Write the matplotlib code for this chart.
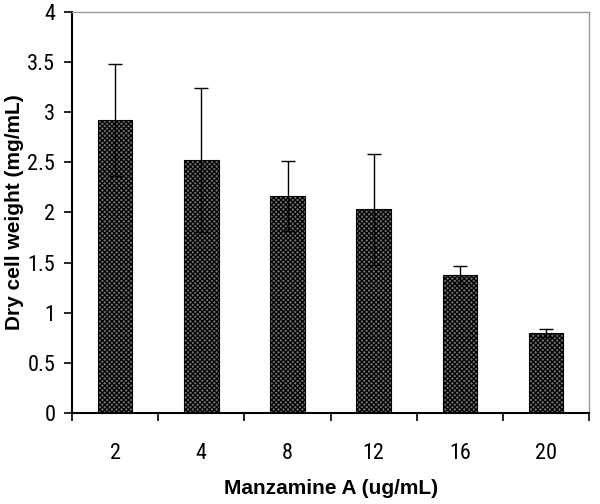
import numpy as np
import matplotlib
matplotlib.use('Agg')
import matplotlib.pyplot as plt
from matplotlib.ticker import FixedLocator

plt.rcParams['font.family'] = ['Roboto Condensed', 'Liberation Sans', 'DejaVu Sans']
plt.rcParams['hatch.linewidth'] = 0.9

doses = ['2', '4', '8', '12', '16', '20']
weight = [2.92, 2.52, 2.16, 2.03, 1.38, 0.80]
sd = [0.56, 0.72, 0.35, 0.55, 0.09, 0.04]

fig = plt.figure(figsize=(6, 5.04), dpi=100)
ax = fig.add_axes([0.12, 0.181, 0.862, 0.795])

x = np.arange(len(doses))
ax.bar(x, weight, width=0.40, color='#707070', edgecolor='black',
       hatch='xxxxxxx', linewidth=0.8, zorder=2)
ax.errorbar(x, weight, yerr=sd, fmt='none', ecolor='black', elinewidth=1.0,
            capsize=5, capthick=1.0, zorder=3)

ax.set_xlim(-0.5, len(doses) - 0.5)
ax.set_ylim(0, 4)
ax.set_yticks(np.arange(0, 4.01, 0.5))
ax.set_yticklabels(['0', '0.5', '1', '1.5', '2', '2.5', '3', '3.5', '4'])
ax.set_xticks(x)
ax.set_xticklabels(doses)
ax.xaxis.set_minor_locator(FixedLocator(np.arange(-0.5, len(doses), 1.0)))

ax.tick_params(axis='x', which='major', length=0, labelsize=16, pad=22)
ax.tick_params(axis='x', which='minor', length=6, width=1.2, direction='out')
ax.tick_params(axis='y', length=6, width=1.2, labelsize=16, pad=6)

for side in ['left', 'bottom']:
    ax.spines[side].set_linewidth(1.5)
for side in ['top', 'right']:
    ax.spines[side].set_color('#999999')
    ax.spines[side].set_linewidth(1.0)

ax.set_xlabel('Manzamine A (ug/mL)', fontsize=15, fontweight='bold',
              family=['Liberation Sans', 'DejaVu Sans'])
ax.set_ylabel('Dry cell weight (mg/mL)', fontsize=15, fontweight='bold',
              family=['Liberation Sans', 'DejaVu Sans'])
ax.xaxis.set_label_coords(0.5, -0.165)
ax.yaxis.set_label_coords(-0.092, 0.5)

fig.savefig('out.png', dpi=100)
